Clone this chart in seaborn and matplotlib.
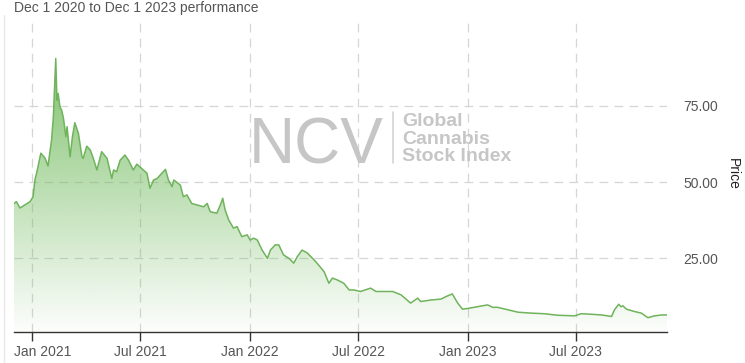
import numpy as np
import pandas as pd
import matplotlib
matplotlib.use('Agg')
import matplotlib.pyplot as plt
import matplotlib.dates as mdates
import matplotlib.transforms as mtransforms
from matplotlib.lines import Line2D
from matplotlib.ticker import FuncFormatter
import seaborn as sns

# NCV Global Cannabis Stock Index, Dec 1 2020 -> Dec 1 2023
dates = [
    '2020-12-01', '2020-12-05', '2020-12-11', '2020-12-19', '2020-12-28',
    '2021-01-02', '2021-01-05', '2021-01-08', '2021-01-15', '2021-01-22', '2021-01-27',
    '2021-02-02', '2021-02-05', '2021-02-09', '2021-02-11', '2021-02-13', '2021-02-16',
    '2021-02-19', '2021-02-22', '2021-02-26', '2021-02-28',
    '2021-03-05', '2021-03-09', '2021-03-13', '2021-03-19', '2021-03-25', '2021-03-27',
    '2021-04-02', '2021-04-08', '2021-04-13', '2021-04-19', '2021-04-27',
    '2021-05-06', '2021-05-14', '2021-05-17', '2021-05-22', '2021-05-28',
    '2021-06-05', '2021-06-11', '2021-06-19', '2021-06-25',
    '2021-07-03', '2021-07-12', '2021-07-17', '2021-07-23', '2021-07-29',
    '2021-08-03', '2021-08-12', '2021-08-17', '2021-08-23', '2021-08-26',
    '2021-09-06', '2021-09-11', '2021-09-17', '2021-09-25',
    '2021-10-04', '2021-10-15', '2021-10-21', '2021-10-26',
    '2021-11-06', '2021-11-12', '2021-11-16', '2021-11-20', '2021-11-26',
    '2021-12-04', '2021-12-10', '2021-12-18', '2021-12-27',
    '2022-01-01', '2022-01-07', '2022-01-13', '2022-01-21', '2022-01-30',
    '2022-02-04', '2022-02-12', '2022-02-18', '2022-02-26',
    '2022-03-07', '2022-03-15', '2022-03-21', '2022-03-29',
    '2022-04-07', '2022-04-21', '2022-05-05', '2022-05-13', '2022-05-19', '2022-05-27',
    '2022-06-07', '2022-06-16', '2022-06-24', '2022-07-05', '2022-07-22', '2022-07-31',
    '2022-08-13', '2022-08-28', '2022-09-11', '2022-09-27',
    '2022-10-09', '2022-10-14', '2022-10-31', '2022-11-17', '2022-11-25',
    '2022-12-06', '2022-12-15', '2022-12-23',
    '2023-01-03', '2023-01-17', '2023-02-03', '2023-02-12', '2023-02-20',
    '2023-03-09', '2023-03-26', '2023-04-17', '2023-05-09', '2023-06-01', '2023-06-29',
    '2023-07-10', '2023-07-21', '2023-08-13', '2023-08-30',
    '2023-09-04', '2023-09-11', '2023-09-15', '2023-09-18', '2023-09-24',
    '2023-10-08', '2023-10-19', '2023-10-30', '2023-11-10', '2023-11-22', '2023-12-01',
]
prices = [
    43.0, 43.6, 41.5, 42.5, 43.6,
    45.2, 50.7, 53.0, 59.5, 57.9, 55.3,
    63.8, 71.4, 90.6, 76.9, 79.1, 74.7,
    73.6, 70.9, 64.9, 68.2,
    58.3, 64.9, 69.5, 66.0, 58.3, 57.8,
    61.8, 60.5, 57.8, 54.0, 60.0,
    57.8, 51.2, 54.0, 53.4, 57.2,
    58.9, 57.2, 54.0, 55.9,
    54.5, 52.9, 48.0, 50.7, 51.2,
    52.3, 54.2, 50.7, 48.5, 50.7,
    49.0, 45.2, 45.8, 43.0,
    42.5, 41.9, 43.0, 40.3,
    39.8, 42.5, 44.7, 40.9, 37.6,
    34.9, 35.4, 32.1, 32.7,
    31.0, 31.6, 31.0, 27.7, 25.0,
    27.7, 29.4, 29.4, 26.1,
    25.0, 23.4, 25.5, 27.7,
    26.7, 23.9, 20.6, 16.8, 18.5, 17.9,
    16.8, 14.6, 14.6, 14.1, 15.2, 14.1,
    14.1, 14.1, 13.0, 10.3,
    11.9, 10.8, 11.3, 11.6, 12.4,
    13.3, 10.3, 8.3,
    8.6, 9.1, 9.7, 8.9, 8.9,
    8.1, 7.3, 7.0, 6.8, 6.3, 6.1,
    6.8, 6.7, 6.4, 5.9,
    8.1, 9.9, 9.1, 9.4, 8.3,
    7.5, 7.0, 5.5, 6.1, 6.4, 6.4,
]
y_ticks = [25, 50, 75]

LINE = '#6fb35c'
GRID = '#d6d6d6'
TEXT = '#555555'
MARK = '#c6c6c6'

df = pd.DataFrame({'date': pd.to_datetime(dates), 'price': prices})

sns.set_style('white')
plt.rcParams['font.family'] = ['Liberation Sans', 'DejaVu Sans']

W, H = 745, 363
fig = plt.figure(figsize=(W / 100, H / 100), dpi=100)
ax = fig.add_axes([14 / W, 1 - 331.7 / H, (667 - 14) / W, (331.7 - 17) / H])

sns.lineplot(data=df, x='date', y='price', ax=ax, color=LINE, lw=1.1, zorder=4)

# green area, fading to white towards the bottom
ymin, ymax = 0.9, 104.2
xnum = mdates.date2num(df['date'])
area = ax.fill_between(df['date'], df['price'], ymin, facecolor='none', edgecolor='none')
n = 256
rgba = np.zeros((n, 1, 4))
rgba[..., 0] = 112 / 255
rgba[..., 1] = 186 / 255
rgba[..., 2] = 92 / 255
rgba[:, 0, 3] = np.linspace(0.88, 0.02, n)
im = ax.imshow(rgba, extent=[xnum[0], xnum[-1], ymin, max(prices)], origin='upper',
               aspect='auto', zorder=3, interpolation='bilinear')
im.set_clip_path(area.get_paths()[0], transform=ax.transData)

ax.set_xlim(df['date'].iloc[0], df['date'].iloc[-1])
ax.set_ylim(ymin, ymax)

# grid
ax.set_axisbelow(True)
ax.grid(True, color=GRID, linestyle=(0, (7, 5)), lw=0.9)

# x axis
ax.xaxis.set_major_locator(mdates.MonthLocator(bymonth=[1, 7]))
ax.xaxis.set_major_formatter(mdates.DateFormatter('%b %Y'))
ax.tick_params(axis='x', bottom=True, length=6.5, width=1, color='#333333',
               labelsize=10, labelcolor=TEXT, pad=3)
ax.set_xlabel('')

# y axis on the right
ax.yaxis.tick_right()
ax.set_yticks(y_ticks)
ax.yaxis.set_major_formatter(FuncFormatter(lambda v, p: f'{v:.2f}'))
ax.tick_params(axis='y', left=False, right=False, length=0, labelsize=10,
               labelcolor=TEXT, pad=11.5)
ax.yaxis.set_label_position('right')
ax.set_ylabel('Price', rotation=270, va='bottom', fontsize=10, color='#222222', labelpad=6)

for s in ['left', 'top', 'right']:
    ax.spines[s].set_visible(False)
ax.spines['bottom'].set_color('#333333')
ax.spines['bottom'].set_linewidth(1)

# first x label is pushed right so it stays inside the plot
fig.canvas.draw()
first = ax.xaxis.get_major_ticks()[0].label1
first.set_horizontalalignment('left')
first.set_transform(first.get_transform() +
                    mtransforms.ScaledTranslation(-18.3 / 100, 0, fig.dpi_scale_trans))

# title and frame
fig.text(14 / W, 1 - 1 / H, 'Dec 1 2020 to Dec 1 2023 performance', ha='left', va='top',
         fontsize=10, color=TEXT)
fig.add_artist(Line2D([4 / W, 4 / W], [0, 1 - 15 / H], color='#e8e8e8', lw=1))

# watermark
fig.text(249 / W, 1 - 163.5 / H, 'NCV', ha='left', va='baseline', fontsize=46,
         color=MARK, zorder=1)
fig.add_artist(Line2D([393 / W, 393 / W], [1 - 112 / H, 1 - 163 / H], color='#d4d4d4', lw=1.2))
for i, word in enumerate(['Global', 'Cannabis', 'Stock Index']):
    fig.text(402 / W, 1 - (126.5 + 17.3 * i) / H, word, ha='left', va='baseline',
             fontsize=14, fontweight='bold', color=MARK)

fig.savefig('out.png', dpi=100)
